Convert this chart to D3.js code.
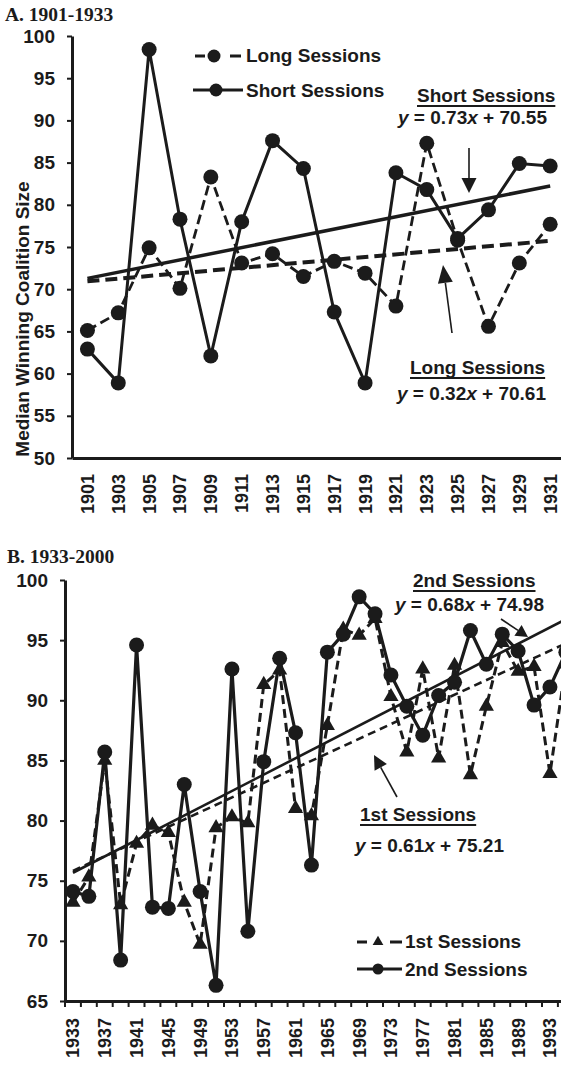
<!DOCTYPE html>
<html>
<head>
<meta charset="utf-8">
<script src="https://cdn.jsdelivr.net/npm/d3@7/dist/d3.min.js"></script>
<style>
  html, body { margin: 0; padding: 0; background: #fff; }
  svg { display: block; }
  text { fill: #1b1b1b; }
</style>
</head>
<body>
<svg id="chart" width="561" height="1067"></svg>
<script>
// ---- Panel A: 1901-1933 ----
const yearsA = [1901, 1903, 1905, 1907, 1909, 1911, 1913, 1915, 1917, 1919, 1921, 1923, 1925, 1927, 1929, 1931];
const longSessions  = [65.1, 67.2, 74.9, 70.1, 83.3, 73.1, 74.2, 71.5, 73.3, 71.9, 68.0, 87.3, 75.8, 65.6, 73.1, 77.7];
const shortSessions = [62.9, 58.9, 98.4, 78.3, 62.1, 78.0, 87.6, 84.3, 67.3, 58.9, 83.8, 81.8, 76.0, 79.4, 84.9, 84.6];
const ticksA = [50, 55, 60, 65, 70, 75, 80, 85, 90, 95, 100];
// fitted trends: [slope, intercept], x = 1..n
const trendShort = [0.73, 70.55];
const trendLong  = [0.32, 70.61];

// ---- Panel B: 1933-2000 ----
const yearsB = [1933, 1935, 1937, 1939, 1941, 1943, 1945, 1947, 1949, 1951, 1953, 1955, 1957, 1959, 1961, 1963,
                1965, 1967, 1969, 1971, 1973, 1975, 1977, 1979, 1981, 1983, 1985, 1987, 1989, 1991, 1993, 1995];
const firstSessions  = [73.2, 75.3, 85.0, 73.0, 78.1, 79.6, 79.0, 73.2, 69.7, 79.4, 80.3, 79.8, 91.3, 92.5, 81.0, 80.4,
                        87.9, 95.9, 95.4, 96.8, 90.3, 85.7, 92.6, 85.2, 92.9, 83.8, 89.5, 94.8, 92.4, 92.8, 83.9, 93.0];
const secondSessions = [74.1, 73.7, 85.7, 68.4, 94.6, 72.8, 72.7, 83.0, 74.1, 66.3, 92.6, 70.8, 84.9, 93.5, 87.3, 76.3,
                        94.0, 95.5, 98.6, 97.2, 92.1, 89.5, 87.1, 90.4, 91.5, 95.8, 93.0, 95.5, 94.1, 89.6, 91.1, 94.0];
const ticksB = [65, 70, 75, 80, 85, 90, 95, 100];
const labeledYearsB = yearsB.filter((d, i) => i % 2 === 0);
const trendSecond = [0.68, 74.98];
const trendFirst  = [0.61, 75.21];

const INK = "#1b1b1b";
const SANS = "'Liberation Sans', Arial, sans-serif";
const SERIF = "'Liberation Serif', 'Times New Roman', serif";

const svg = d3.select("#chart");
svg.append("rect").attr("width", 561).attr("height", 1067).attr("fill", "#fff");

function underlined(g, x, y, str) {
  const t = g.append("text").attr("x", x).attr("y", y)
    .attr("font-family", SANS).attr("font-weight", "bold").attr("font-size", 19).text(str);
  const w = t.node().getComputedTextLength();
  g.append("line").attr("x1", x).attr("x2", x + w).attr("y1", y + 4).attr("y2", y + 4)
    .attr("stroke", INK).attr("stroke-width", 2);
}

function equation(g, x, y, m, b) {
  const t = g.append("text").attr("x", x).attr("y", y)
    .attr("font-family", SANS).attr("font-weight", "bold").attr("font-size", 19);
  t.append("tspan").attr("font-style", "italic").text("y");
  t.append("tspan").text(" = " + m.toFixed(2));
  t.append("tspan").attr("font-style", "italic").text("x");
  t.append("tspan").text(" + " + b.toFixed(2));
}

function arrow(g, x1, y1, x2, y2, headLen, headW) {
  const ang = Math.atan2(y2 - y1, x2 - x1);
  const bx = x2 - headLen * Math.cos(ang), by = y2 - headLen * Math.sin(ang);
  g.append("line").attr("x1", x1).attr("y1", y1).attr("x2", bx).attr("y2", by)
    .attr("stroke", INK).attr("stroke-width", 1.6);
  const px = -Math.sin(ang) * headW / 2, py = Math.cos(ang) * headW / 2;
  g.append("path").attr("d", `M${x2},${y2}L${bx + px},${by + py}L${bx - px},${by - py}Z`).attr("fill", INK);
}

// =============== Panel A ===============
{
  const g = svg.append("g");
  const x = d3.scaleBand().domain(yearsA).range([72, 72 + 16 * 30.85]);
  const y = d3.scaleLinear().domain([50, 100]).range([458, 36]);
  const cx = d => x(d) + x.bandwidth() / 2;

  g.append("text").attr("x", 5).attr("y", 21).attr("font-family", SERIF)
    .attr("font-weight", "bold").attr("font-size", 19.5).text("A. 1901-1933");

  // y axis
  const ya = g.append("g").attr("transform", "translate(72,0)")
    .call(d3.axisLeft(y).tickValues(ticksA).tickSize(5).tickSizeOuter(0).tickPadding(12));
  ya.select(".domain").attr("stroke", INK).attr("stroke-width", 3);
  ya.selectAll(".tick line").attr("stroke", INK).attr("stroke-width", 2);
  ya.selectAll(".tick text").attr("font-family", SANS).attr("font-weight", "bold")
    .attr("font-size", 19).attr("fill", INK);

  // x axis with rotated year labels
  const xa = g.append("g").attr("transform", "translate(0,458)")
    .call(d3.axisBottom(x).tickSize(0).tickSizeOuter(0));
  xa.select(".domain").attr("stroke", INK).attr("stroke-width", 3);
  xa.selectAll(".tick text").attr("font-family", SANS).attr("font-weight", "bold")
    .attr("font-size", 18).attr("fill", INK)
    .attr("transform", "rotate(-90)").attr("text-anchor", "end")
    .attr("x", -16).attr("y", 0).attr("dy", "0.36em");

  g.append("text").attr("transform", "translate(29,319) rotate(-90)")
    .attr("text-anchor", "middle").attr("font-family", SANS).attr("font-weight", "bold")
    .attr("font-size", 19).text("Median Winning Coalition Size");

  // trend lines
  const n = yearsA.length;
  const trend = (c) => [[cx(yearsA[0]), y(c[0] * 1 + c[1])], [cx(yearsA[n - 1]), y(c[0] * n + c[1])]];
  g.append("path").attr("d", d3.line()(trend(trendShort))).attr("stroke", INK)
    .attr("stroke-width", 3.5).attr("fill", "none");
  g.append("path").attr("d", d3.line()(trend(trendLong))).attr("stroke", INK)
    .attr("stroke-width", 4).attr("stroke-dasharray", "12,6").attr("fill", "none");

  const line = d3.line().x((d, i) => cx(yearsA[i])).y(d => y(d));
  g.append("path").attr("d", line(longSessions)).attr("stroke", INK).attr("stroke-width", 2.8)
    .attr("stroke-dasharray", "10,5").attr("fill", "none");
  g.append("path").attr("d", line(shortSessions)).attr("stroke", INK).attr("stroke-width", 3)
    .attr("fill", "none");
  [longSessions, shortSessions].forEach(s => {
    g.selectAll(null).data(s).enter().append("circle")
      .attr("cx", (d, i) => cx(yearsA[i])).attr("cy", d => y(d)).attr("r", 7.5).attr("fill", INK);
  });

  // legend
  g.append("path").attr("d", "M195,56H241").attr("stroke", INK).attr("stroke-width", 3)
    .attr("stroke-dasharray", "10,25,11");
  g.append("circle").attr("cx", 214).attr("cy", 56).attr("r", 6.5).attr("fill", INK);
  g.append("text").attr("x", 246).attr("y", 62).attr("font-family", SANS).attr("font-weight", "bold")
    .attr("font-size", 19).text("Long Sessions");
  g.append("path").attr("d", "M193,90H243").attr("stroke", INK).attr("stroke-width", 3);
  g.append("circle").attr("cx", 216).attr("cy", 90).attr("r", 6.5).attr("fill", INK);
  g.append("text").attr("x", 246).attr("y", 97).attr("font-family", SANS).attr("font-weight", "bold")
    .attr("font-size", 19).text("Short Sessions");

  // trend annotations
  underlined(g, 417, 102, "Short Sessions");
  equation(g, 398, 124, trendShort[0], trendShort[1]);
  arrow(g, 469, 148, 469, 193, 15, 15);
  underlined(g, 410, 374, "Long Sessions");
  equation(g, 397, 400, trendLong[0], trendLong[1]);
  arrow(g, 452, 333, 443, 265, 18, 15);
}

// =============== Panel B ===============
{
  const g = svg.append("g");
  const x = d3.scaleBand().domain(yearsB).range([65, 65 + yearsB.length * 15.9]);
  const y = d3.scaleLinear().domain([65, 100]).range([1001, 580]);
  const cx = d => x(d) + x.bandwidth() / 2;

  g.append("text").attr("x", 7).attr("y", 563).attr("font-family", SERIF)
    .attr("font-weight", "bold").attr("font-size", 19.5).text("B. 1933-2000");

  const ya = g.append("g").attr("transform", "translate(65,0)")
    .call(d3.axisLeft(y).tickValues(ticksB).tickSize(5).tickSizeOuter(0).tickPadding(12));
  ya.select(".domain").attr("stroke", INK).attr("stroke-width", 3);
  ya.selectAll(".tick line").attr("stroke", INK).attr("stroke-width", 2);
  ya.selectAll(".tick text").attr("font-family", SANS).attr("font-weight", "bold")
    .attr("font-size", 19).attr("fill", INK);

  // x axis: tick marks on category boundaries, labels every other category
  const xa = g.append("g").attr("transform", "translate(0,1001)")
    .call(d3.axisBottom(x).tickSize(0).tickSizeOuter(0).tickValues(labeledYearsB));
  xa.select(".domain").attr("stroke", INK).attr("stroke-width", 3);
  xa.selectAll(".tick text").attr("font-family", SANS).attr("font-weight", "bold")
    .attr("font-size", 18).attr("fill", INK)
    .attr("transform", "rotate(-90)").attr("text-anchor", "end")
    .attr("x", -17).attr("y", 0).attr("dy", "0.36em");
  xa.selectAll(null).data(yearsB).enter().append("line")
    .attr("x1", d => x(d)).attr("x2", d => x(d)).attr("y1", 0).attr("y2", 6)
    .attr("stroke", INK).attr("stroke-width", 2);

  const n = yearsB.length;
  const trend = (c) => [[cx(yearsB[0]), y(c[0] * 1 + c[1])], [cx(yearsB[n - 1]), y(c[0] * n + c[1])]];
  g.append("path").attr("d", d3.line()(trend(trendSecond))).attr("stroke", INK)
    .attr("stroke-width", 2.6).attr("fill", "none");
  g.append("path").attr("d", d3.line()(trend(trendFirst))).attr("stroke", INK)
    .attr("stroke-width", 2.6).attr("stroke-dasharray", "8,5").attr("fill", "none");

  const line = d3.line().x((d, i) => cx(yearsB[i])).y(d => y(d));
  g.append("path").attr("d", line(firstSessions)).attr("stroke", INK).attr("stroke-width", 3)
    .attr("stroke-dasharray", "9,5").attr("fill", "none");
  g.append("path").attr("d", line(secondSessions)).attr("stroke", INK).attr("stroke-width", 3.2)
    .attr("fill", "none");
  const tri = d3.symbol().type(d3.symbolTriangle).size(100);
  g.selectAll(null).data(firstSessions).enter().append("path")
    .attr("d", tri).attr("fill", INK)
    .attr("transform", (d, i) => `translate(${cx(yearsB[i])},${y(d)})`);
  g.selectAll(null).data(secondSessions).enter().append("circle")
    .attr("cx", (d, i) => cx(yearsB[i])).attr("cy", d => y(d)).attr("r", 7.5).attr("fill", INK);

  // trend annotations
  underlined(g, 413, 587, "2nd Sessions");
  equation(g, 395, 611, trendSecond[0], trendSecond[1]);
  arrow(g, 501, 619, 528, 637, 12, 13);
  underlined(g, 360, 821, "1st Sessions");
  equation(g, 355, 852, trendFirst[0], trendFirst[1]);
  arrow(g, 397, 797, 374, 755, 14, 14);

  // legend
  g.append("path").attr("d", "M357,942H402").attr("stroke", INK).attr("stroke-width", 3)
    .attr("stroke-dasharray", "10,23,12");
  g.append("path").attr("d", d3.symbol().type(d3.symbolTriangle).size(50))
    .attr("transform", "translate(378,942)").attr("fill", INK);
  g.append("text").attr("x", 405).attr("y", 948).attr("font-family", SANS).attr("font-weight", "bold")
    .attr("font-size", 19).text("1st Sessions");
  g.append("path").attr("d", "M357,969H402").attr("stroke", INK).attr("stroke-width", 3);
  g.append("circle").attr("cx", 378).attr("cy", 969).attr("r", 5.5).attr("fill", INK);
  g.append("text").attr("x", 405).attr("y", 976).attr("font-family", SANS).attr("font-weight", "bold")
    .attr("font-size", 19).text("2nd Sessions");
}
</script>
</body>
</html>
